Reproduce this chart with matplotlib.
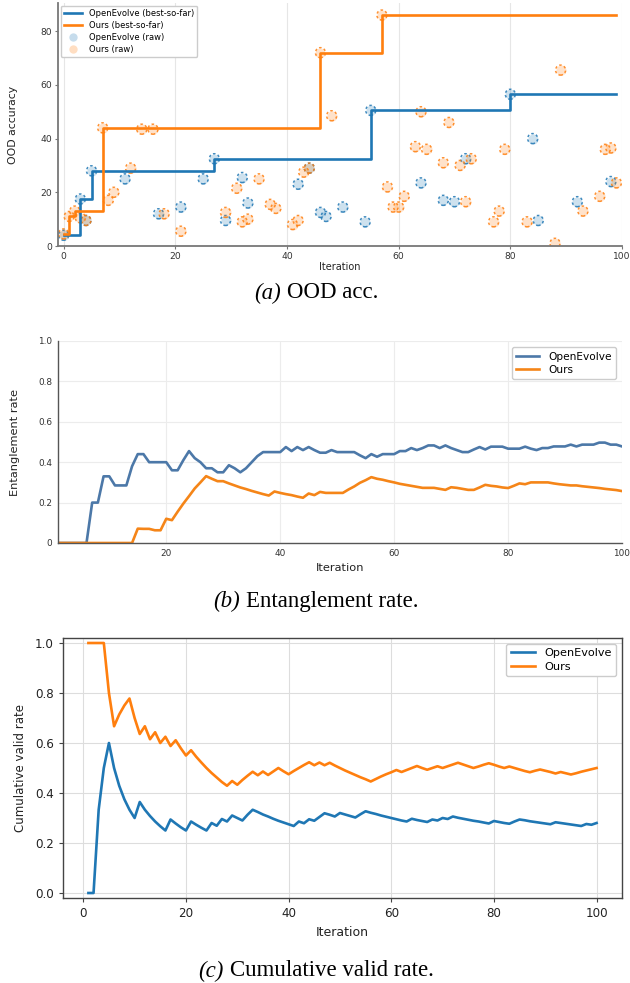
import numpy as np
import matplotlib
matplotlib.use('Agg')
import matplotlib.pyplot as plt
from matplotlib.lines import Line2D
from matplotlib.ticker import FixedLocator, FixedFormatter

# ---------------- Data ----------------
# (a) OOD accuracy raw points per iteration
oe_iters = [0, 3, 4, 5, 11, 17, 21, 25, 27, 29, 32, 33, 42, 44, 46, 47, 50, 54, 55,
            64, 68, 70, 72, 80, 84, 85, 92, 98]
oe_vals = [4, 17.5, 9.5, 28, 25, 12, 14.5, 25, 32.5, 9.5, 25.5, 16, 23, 29, 12.5, 11, 14.5, 9, 50.5,
           23.5, 17, 16.5, 32.5, 56.5, 40, 9.5, 16.5, 24]
ours_iters = [0, 1, 2, 3, 4, 7, 8, 9, 12, 14, 16, 18, 21, 29, 31, 32, 33, 35, 37, 38,
              41, 42, 43, 44, 46, 48, 57, 58, 59, 60, 61, 63, 64, 65, 68, 69, 71, 72, 73,
              77, 78, 79, 83, 88, 89, 93, 96, 97, 98, 99]
ours_vals = [4.5, 11, 13, 10.5, 9.5, 44, 17, 20, 29, 43.5, 43.5, 12, 5.5, 12.5, 21.5, 9, 10, 25, 15.5, 14,
             8, 9.5, 27.5, 29, 72, 48.5, 86, 22, 14.5, 14.5, 18.5, 37, 50, 36, 31, 46, 30, 16.5, 32.5,
             9, 13, 36, 9, 1, 65.5, 13, 18.5, 36, 36.5, 23.5]
n_iter_a = 100

# (b) Entanglement rate, iterations 1..100
ent_oe = [0, 0, 0, 0, 0, 0, 0.2, 0.2, 0.33, 0.33,
          0.285, 0.285, 0.285, 0.38, 0.44, 0.44, 0.40, 0.40, 0.40, 0.40,
          0.36, 0.36, 0.41, 0.455, 0.42, 0.40, 0.37, 0.37, 0.35, 0.35,
          0.385, 0.37, 0.35, 0.37, 0.40, 0.43, 0.45, 0.45, 0.45, 0.45,
          0.475, 0.455, 0.475, 0.46, 0.475, 0.46, 0.447, 0.447, 0.46, 0.45,
          0.45, 0.45, 0.45, 0.434, 0.42, 0.44, 0.427, 0.44, 0.44, 0.44,
          0.455, 0.455, 0.47, 0.46, 0.47, 0.483, 0.483, 0.47, 0.483, 0.47,
          0.46, 0.45, 0.45, 0.463, 0.475, 0.463, 0.477, 0.477, 0.477, 0.467,
          0.467, 0.467, 0.477, 0.467, 0.46, 0.47, 0.47, 0.478, 0.478, 0.478,
          0.487, 0.478, 0.487, 0.487, 0.487, 0.497, 0.497, 0.487, 0.487, 0.478]
ent_ours = [0, 0, 0, 0, 0, 0, 0, 0, 0, 0,
            0, 0, 0, 0, 0.071, 0.07, 0.07, 0.063, 0.063, 0.12,
            0.113, 0.155, 0.195, 0.232, 0.27, 0.30, 0.331, 0.318, 0.306, 0.306,
            0.295, 0.285, 0.275, 0.267, 0.258, 0.25, 0.242, 0.235, 0.255, 0.248,
            0.242, 0.237, 0.23, 0.224, 0.245, 0.237, 0.253, 0.248, 0.248, 0.248,
            0.248, 0.265, 0.28, 0.298, 0.311, 0.326, 0.318, 0.313, 0.306, 0.30,
            0.293, 0.288, 0.283, 0.278, 0.273, 0.273, 0.273, 0.268, 0.263, 0.276,
            0.273, 0.268, 0.263, 0.263, 0.275, 0.288, 0.283, 0.28, 0.275, 0.272,
            0.283, 0.295, 0.291, 0.30, 0.30, 0.30, 0.30, 0.295, 0.291, 0.288,
            0.285, 0.285, 0.281, 0.278, 0.275, 0.272, 0.268, 0.265, 0.262, 0.257]

# (c) Cumulative valid rate, iterations 1..100
cv_oe = [0, 0, 0.333, 0.5, 0.6, 0.5, 0.429, 0.375, 0.333, 0.3,
         0.364, 0.333, 0.308, 0.286, 0.267, 0.25, 0.294, 0.278, 0.263, 0.25,
         0.286, 0.273, 0.261, 0.25, 0.28, 0.269, 0.296, 0.286, 0.31, 0.3,
         0.29, 0.313, 0.333, 0.324, 0.314, 0.306, 0.297, 0.289, 0.282, 0.275,
         0.268, 0.286, 0.279, 0.295, 0.289, 0.304, 0.319, 0.313, 0.306, 0.32,
         0.314, 0.308, 0.302, 0.315, 0.327, 0.321, 0.316, 0.31, 0.305, 0.3,
         0.295, 0.29, 0.286, 0.297, 0.292, 0.288, 0.284, 0.294, 0.29, 0.3,
         0.296, 0.306, 0.301, 0.297, 0.293, 0.289, 0.286, 0.282, 0.278, 0.288,
         0.284, 0.28, 0.277, 0.286, 0.294, 0.291, 0.287, 0.284, 0.281, 0.278,
         0.275, 0.283, 0.28, 0.277, 0.274, 0.271, 0.268, 0.276, 0.273, 0.28]
cv_ours = [1.0, 1.0, 1.0, 1.0, 0.8, 0.667, 0.714, 0.75, 0.778, 0.7,
           0.636, 0.667, 0.615, 0.643, 0.6, 0.625, 0.588, 0.611, 0.579, 0.55,
           0.571, 0.545, 0.522, 0.5, 0.48, 0.462, 0.444, 0.429, 0.448, 0.433,
           0.452, 0.469, 0.485, 0.471, 0.486, 0.472, 0.486, 0.5, 0.487, 0.475,
           0.488, 0.5, 0.512, 0.523, 0.511, 0.522, 0.511, 0.521, 0.51, 0.5,
           0.49, 0.481, 0.472, 0.463, 0.455, 0.446, 0.456, 0.466, 0.475, 0.483,
           0.492, 0.484, 0.492, 0.5, 0.508, 0.5, 0.493, 0.5, 0.507, 0.5,
           0.507, 0.514, 0.521, 0.514, 0.507, 0.5, 0.506, 0.513, 0.519, 0.513,
           0.506, 0.5, 0.506, 0.5, 0.494, 0.488, 0.483, 0.489, 0.494, 0.489,
           0.484, 0.478, 0.484, 0.479, 0.474, 0.479, 0.485, 0.49, 0.495, 0.5]

# ---------------- Figure ----------------
W, H = 630, 983
fig = plt.figure(figsize=(W / 100, H / 100), dpi=100)


def rect(l, t, r, b):
    return [l / W, 1 - b / H, (r - l) / W, (b - t) / H]


C_BLUE = '#1f77b4'
C_ORANGE = '#ff7f0e'
B_BLUE = '#4c78a8'
B_ORANGE = '#f58518'

# ---------- (a) ----------
axA = fig.add_axes(rect(58, 3, 622, 246))
it_a = np.arange(n_iter_a)
oe_full = np.full(n_iter_a, np.nan)
oe_full[oe_iters] = oe_vals
ours_full = np.full(n_iter_a, np.nan)
ours_full[ours_iters] = ours_vals
oe_best = np.fmax.accumulate(oe_full)
ours_best = np.fmax.accumulate(ours_full)

ms = 52
for xs, ys, c in [(oe_iters, oe_vals, C_BLUE), (ours_iters, ours_vals, C_ORANGE)]:
    axA.scatter(xs, ys, s=ms, color=c, alpha=0.22, linewidths=0, zorder=2)
    axA.scatter(xs, ys, s=ms, facecolors='none', edgecolors=c, linewidths=1.1,
                linestyles=(0, (1.6, 1.6)), alpha=0.85, zorder=2)
l1, = axA.step(it_a, oe_best, where='post', color=C_BLUE, lw=1.9, zorder=3)
l2, = axA.step(it_a, ours_best, where='post', color=C_ORANGE, lw=1.9, zorder=3)
h3 = Line2D([], [], ls='none', marker='o', ms=6, mfc=C_BLUE, mec='none', alpha=0.25)
h4 = Line2D([], [], ls='none', marker='o', ms=6, mfc=C_ORANGE, mec='none', alpha=0.25)
axA.legend([l1, l2, h3, h4],
           ['OpenEvolve (best-so-far)', 'Ours (best-so-far)', 'OpenEvolve (raw)', 'Ours (raw)'],
           loc='upper left', fontsize=6, framealpha=1, edgecolor='#cccccc',
           borderpad=0.4, labelspacing=0.35, handlelength=2.2, borderaxespad=0.3)
axA.set_xlim(-1, 100)
axA.set_ylim(0, 90.5)
axA.set_xticks([0, 20, 40, 60, 80, 100])
axA.set_yticks([0, 20, 40, 60, 80])
axA.grid(axis='x', color='#e6e6e6', lw=0.8)
axA.set_axisbelow(True)
for s in ['top', 'right']:
    axA.spines[s].set_visible(False)
for s in ['left', 'bottom']:
    axA.spines[s].set_color('#777777')
    axA.spines[s].set_linewidth(1.3)
axA.tick_params(labelsize=6.6, length=2.5, width=0.8, color='#777777', labelcolor='#333333', pad=2)
axA.set_xlabel('Iteration', fontsize=7, color='#222222')
axA.set_ylabel('OOD accuracy', fontsize=7.8, color='#222222')
axA.xaxis.set_label_coords(0.5, -0.066)
axA.yaxis.set_label_coords(-0.071, 0.5)

# ---------- (b) ----------
axB = fig.add_axes(rect(58, 341, 622, 543))
it_b = np.arange(1, len(ent_oe) + 1)
axB.plot(it_b, ent_oe, color=B_BLUE, lw=1.9, label='OpenEvolve')
axB.plot(it_b, ent_ours, color=B_ORANGE, lw=1.9, label='Ours')
axB.set_xlim(1, 100)
axB.set_ylim(0, 1)
axB.set_xticks([20, 40, 60, 80, 100])
axB.yaxis.set_major_locator(FixedLocator([0, 0.2, 0.4, 0.6, 0.8, 1.0]))
axB.yaxis.set_major_formatter(FixedFormatter(['0', '0.2', '0.4', '0.6', '0.8', '1.0']))
axB.grid(True, color='#ececec', lw=0.8)
axB.set_axisbelow(True)
for s in ['top', 'right']:
    axB.spines[s].set_visible(False)
for s in ['left', 'bottom']:
    axB.spines[s].set_color('#555555')
    axB.spines[s].set_linewidth(1.0)
axB.tick_params(labelsize=6.4, length=0, labelcolor='#333333', pad=4)
axB.set_xlabel('Iteration', fontsize=8.2, color='#222222')
axB.set_ylabel('Entanglement rate', fontsize=8.2, color='#222222')
axB.xaxis.set_label_coords(0.5, -0.099)
axB.yaxis.set_label_coords(-0.068, 0.5)
axB.legend(loc='upper right', fontsize=7.6, framealpha=1, edgecolor='#cccccc',
           handlelength=2.2, borderpad=0.4, labelspacing=0.3, borderaxespad=0.6)

# ---------- (c) ----------
axC = fig.add_axes(rect(63, 638, 622, 898))
it_c = np.arange(1, len(cv_oe) + 1)
axC.plot(it_c, cv_oe, color=C_BLUE, lw=1.9, label='OpenEvolve')
axC.plot(it_c, cv_ours, color=C_ORANGE, lw=1.9, label='Ours')
axC.set_xlim(-3.95, 104.95)
axC.set_ylim(-0.02, 1.02)
axC.set_xticks([0, 20, 40, 60, 80, 100])
axC.set_yticks([0.0, 0.2, 0.4, 0.6, 0.8, 1.0])
axC.grid(True, color='#dddddd', lw=0.8)
axC.set_axisbelow(True)
for s in axC.spines.values():
    s.set_color('#444444')
    s.set_linewidth(1.0)
axC.tick_params(labelsize=8.6, length=3, width=0.8, color='#444444', labelcolor='#222222')
axC.set_xlabel('Iteration', fontsize=9, color='#222222')
axC.set_ylabel('Cumulative valid rate', fontsize=8.5, color='#222222')
axC.xaxis.set_label_coords(0.5, -0.108)
axC.yaxis.set_label_coords(-0.064, 0.5)
axC.legend(loc='upper right', fontsize=8.1, framealpha=1, edgecolor='#cccccc',
           handlelength=2.2, borderpad=0.4, labelspacing=0.3, borderaxespad=0.5)

# ---------- Captions ----------
renderer = fig.canvas.get_renderer()


def caption(yc_px, ital, rest, size, xc_px=316):
    t1 = fig.text(0, 1 - yc_px / H, ital, family='Liberation Serif', style='italic',
                  fontsize=size, va='center', ha='left')
    t2 = fig.text(0, 1 - yc_px / H, rest, family='Liberation Serif',
                  fontsize=size, va='center', ha='left')
    w1 = t1.get_window_extent(renderer).width
    w2 = t2.get_window_extent(renderer).width
    gap = 0.25 * size * 100 / 72
    x0 = xc_px - (w1 + gap + w2) / 2
    t1.set_x(x0 / W)
    t2.set_x((x0 + w1 + gap) / W)


caption(293, '(a)', 'OOD acc.', 16.5)
caption(601, '(b)', 'Entanglement rate.', 16.5)
caption(971, '(c)', 'Cumulative valid rate.', 16.5)

fig.savefig('out.png', dpi=100)
